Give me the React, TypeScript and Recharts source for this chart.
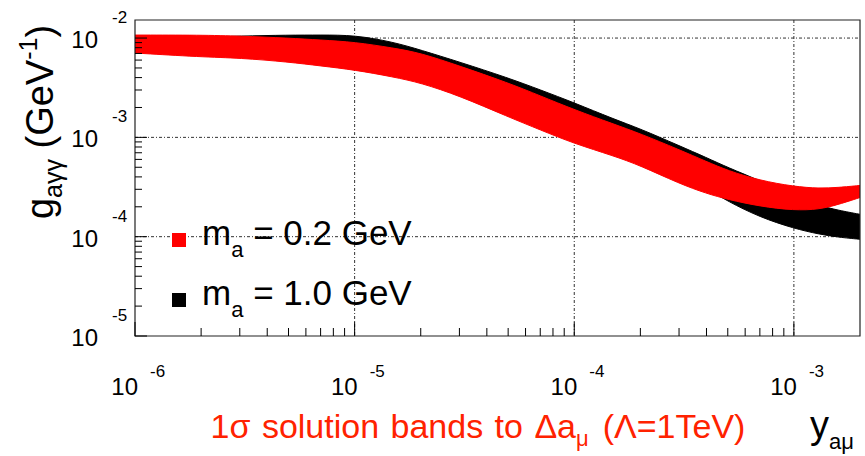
import React from 'react';
import {
  ComposedChart,
  Area,
  XAxis,
  YAxis,
  CartesianGrid,
  ReferenceArea,
  Legend,
  Label,
} from 'recharts';

// y_{aμ} sample points
const yamu = [
  1e-6, 2e-6, 3e-6, 5e-6, 7e-6, 1e-5, 1.5e-5, 2e-5, 3e-5, 5e-5, 7e-5, 1e-4,
  1.5e-4, 2e-4, 3e-4, 4e-4, 5e-4, 7e-4, 1e-3, 1.3e-3, 1.6e-3, 2e-3,
];

// 1σ band for m_a = 0.2 GeV (g_aγγ in GeV^-1)
const ma02Upper = [
  0.01072, 0.01072, 0.01047, 0.01, 0.00955, 0.00912, 0.00794, 0.00707, 0.00524,
  0.00354, 0.00262, 0.0019, 0.00137, 0.00109, 0.000752, 0.000571, 0.000463,
  0.000368, 0.00032, 0.000306, 0.000313, 0.000328,
];
const ma02Lower = [
  0.00707, 0.00645, 0.0063, 0.00574, 0.00524, 0.00478, 0.00406, 0.00354,
  0.00262, 0.00161, 0.00119, 0.000865, 0.000655, 0.00052, 0.000343, 0.000272,
  0.000237, 0.000202, 0.000184, 0.000188, 0.000211, 0.000248,
];

// 1σ band for m_a = 1.0 GeV
const ma10Upper = [
  0.01023, 0.01023, 0.01047, 0.01072, 0.01072, 0.01072, 0.00912, 0.00758,
  0.00574, 0.00397, 0.00301, 0.00223, 0.00154, 0.00122, 0.000825, 0.000626,
  0.000497, 0.000368, 0.000254, 0.000206, 0.000184, 0.000168,
];
const ma10Lower = [
  0.00758, 0.00707, 0.00675, 0.0063, 0.00602, 0.00561, 0.00478, 0.00416,
  0.00315, 0.00199, 0.0015, 0.00109, 0.000788, 0.000626, 0.000423, 0.000306,
  0.000227, 0.000157, 0.000121, 0.000106, 0.0000986, 0.0000942,
];

// axis decades and their exponent labels
const xMajor = [1e-6, 1e-5, 1e-4, 1e-3];
const xExponents = ['-6', '-5', '-4', '-3'];
const yMajor = [1e-2, 1e-3, 1e-4, 1e-5];
const yExponents = ['-2', '-3', '-4', '-5'];

const X_DOMAIN = [1e-6, 2e-3];
const Y_DOMAIN = [1e-5, 0.0152];

const minorsOf = (decades: number[]) =>
  decades.flatMap((d) => [2, 3, 4, 5, 6, 7, 8, 9].map((m) => m * d));

const xTicks = [...xMajor, ...minorsOf(xMajor.slice(0, 3))];
const yTicks = [...yMajor, ...minorsOf(yMajor.slice(1))];

const series = [
  { key: 'ma02', mass: '0.2 GeV', color: '#ff0000' },
  { key: 'ma10', mass: '1.0 GeV', color: '#000000' },
];

const data = yamu.map((x, i) => ({
  x,
  ma02: [ma02Lower[i], ma02Upper[i]],
  ma10: [ma10Lower[i], ma10Upper[i]],
}));

const FONT = '"Liberation Sans", Arial, Helvetica, sans-serif';

function XTick(props: any) {
  const { x, y, payload } = props;
  const idx = xMajor.indexOf(payload.value);
  const major = idx >= 0;
  return (
    <g>
      <line x1={x} x2={x} y1={y} y2={y - (major ? 14 : 8)} stroke="#000" />
      {major && (
        <g fontFamily={FONT} fill="#000">
          <text x={x + 3} y={y + 59} textAnchor="end" fontSize={24}>
            10
          </text>
          <text x={x + 15} y={y + 41} textAnchor="start" fontSize={17}>
            {xExponents[idx]}
          </text>
        </g>
      )}
    </g>
  );
}

function YTick(props: any) {
  const { x, y, payload } = props;
  const idx = yMajor.indexOf(payload.value);
  const major = idx >= 0;
  return (
    <g>
      <line x1={x} x2={x + (major ? 12 : 7)} y1={y} y2={y} stroke="#000" />
      {major && (
        <g fontFamily={FONT} fill="#000">
          <text x={x - 37} y={y + 10} textAnchor="end" fontSize={24}>
            10
          </text>
          <text x={x - 23} y={y - 15} textAnchor="start" fontSize={17}>
            {yExponents[idx]}
          </text>
        </g>
      )}
    </g>
  );
}

function YTitle(props: any) {
  const { viewBox } = props;
  const cx = viewBox.x + 53;
  const cy = viewBox.y + 102;
  return (
    <text
      transform={`translate(${cx},${cy}) rotate(-90)`}
      textAnchor="middle"
      fontFamily={FONT}
      fontSize={38}
      fill="#000"
    >
      g
      <tspan fontSize={25} dy={9}>
        aγγ
      </tspan>
      <tspan dy={-9}> (GeV</tspan>
      <tspan fontSize={25} dy={-16}>
        -1
      </tspan>
      <tspan dy={16}>)</tspan>
    </text>
  );
}

function XTitle(props: any) {
  const { viewBox } = props;
  const base = viewBox.y + 102;
  return (
    <g fontFamily={FONT}>
      <text
        x={viewBox.x + 343}
        y={base}
        textAnchor="middle"
        fontSize={34}
        fill="#ff2200"
        wordSpacing={2}
      >
        1σ solution bands to Δa
        <tspan fontSize={22} dy={8}>
          μ
        </tspan>
        <tspan dy={-8} dx={14}>
          (Λ=1TeV)
        </tspan>
      </text>
      <text x={viewBox.x + 675} y={base} fontSize={38} fill="#000">
        y
        <tspan fontSize={22} dy={11}>
          aμ
        </tspan>
      </text>
    </g>
  );
}

function LegendBox(props: any) {
  const payload: any[] = props.payload || [];
  const rows = series.map((s) => {
    const p = payload.find((e) => e.dataKey === s.key);
    return { ...s, color: p ? p.color : s.color };
  });
  return (
    <svg width={300} height={150} style={{ display: 'block', overflow: 'visible' }}>
      {rows.map((r, i) => (
        <g key={r.key} fontFamily={FONT}>
          <rect x={12} y={38 + i * 60} width={14} height={14} fill={r.color} />
          <text x={42} y={50 + i * 60} fontSize={35} fill="#000">
            m
            <tspan fontSize={22} dy={12}>
              a
            </tspan>
            <tspan dy={-12}> = {r.mass}</tspan>
          </text>
        </g>
      ))}
    </svg>
  );
}

export default function App() {
  return (
    <div
      style={{
        position: 'absolute',
        left: 0,
        top: 0,
        width: 865,
        height: 456,
        background: '#fff',
      }}
    >
      <ComposedChart
        width={865}
        height={456}
        data={data}
        margin={{ top: 20, right: 5, bottom: 0, left: 0 }}
      >
        <CartesianGrid
          horizontalValues={yMajor.slice(0, 3)}
          verticalValues={xMajor.slice(1)}
          stroke="#333"
          strokeDasharray="3 2 1 2"
        />
        <XAxis
          dataKey="x"
          type="number"
          scale="log"
          domain={X_DOMAIN}
          allowDataOverflow
          ticks={xTicks}
          interval={0}
          tick={(p: any) => <XTick {...p} />}
          tickLine={false}
          axisLine={false}
          tickSize={0}
          tickMargin={0}
          height={120}
        >
          <Label content={(p: any) => <XTitle {...p} />} />
        </XAxis>
        <YAxis
          type="number"
          scale="log"
          domain={Y_DOMAIN}
          allowDataOverflow
          ticks={yTicks}
          interval={0}
          tick={(p: any) => <YTick {...p} />}
          tickLine={false}
          axisLine={false}
          tickSize={0}
          tickMargin={0}
          width={135}
        >
          <Label content={(p: any) => <YTitle {...p} />} />
        </YAxis>
        {[...series].reverse().map((s) => (
          <Area
            key={s.key}
            dataKey={s.key}
            name={s.mass}
            type="basis"
            fill={s.color}
            stroke={s.color}
            fillOpacity={1}
            strokeWidth={1}
            dot={false}
            activeDot={false}
            isAnimationActive={false}
          />
        ))}
        <ReferenceArea
          x1={X_DOMAIN[0]}
          x2={X_DOMAIN[1]}
          y1={Y_DOMAIN[0]}
          y2={Y_DOMAIN[1]}
          fill="none"
          stroke="#222"
          strokeWidth={1.2}
        />
        <Legend
          layout="vertical"
          align="center"
          verticalAlign="middle"
          content={(p: any) => <LegendBox {...p} />}
          wrapperStyle={{ position: 'absolute', left: 160, top: 195, width: 300 }}
        />
      </ComposedChart>
    </div>
  );
}
